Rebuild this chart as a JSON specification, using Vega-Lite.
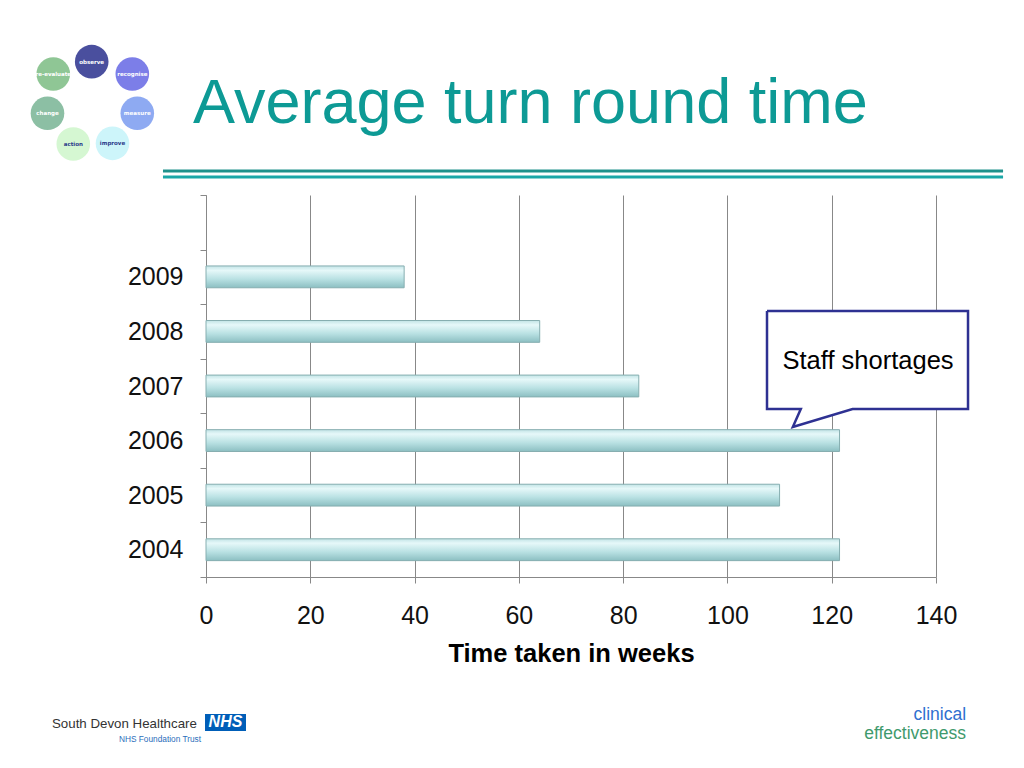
{
  "$schema": "https://vega.github.io/schema/vega-lite/v6.json",
  "width": 730,
  "height": 382,
  "autosize": {"type": "none"},
  "padding": {"left": 206, "top": 195, "right": 88, "bottom": 191},
  "background": "white",
  "config": {"view": {"stroke": null}, "font": "Liberation Sans"},
  "resolve": {"scale": {"x": "independent", "y": "independent"}, "axis": {"x": "independent", "y": "independent"}},
  "layer": [
    {
      "data": {"values": [
        {"year": "2009", "weeks": 38},
        {"year": "2008", "weeks": 64},
        {"year": "2007", "weeks": 83},
        {"year": "2006", "weeks": 121.5},
        {"year": "2005", "weeks": 110},
        {"year": "2004", "weeks": 121.5}
      ]},
      "mark": {
        "type": "bar",
        "height": {"band": 0.4},
        "fill": {"gradient": "linear", "x1": 0, "y1": 0, "x2": 0, "y2": 1, "stops": [
          {"offset": 0, "color": "#c2e4e6"},
          {"offset": 0.2, "color": "#e6f8f9"},
          {"offset": 0.6, "color": "#b9e1e3"},
          {"offset": 1, "color": "#8cbfc2"}
        ]},
        "stroke": "#86aeb0",
        "strokeWidth": 1
      },
      "encoding": {
        "y": {
          "field": "year", "type": "nominal",
          "scale": {"domain": ["blank", "2009", "2008", "2007", "2006", "2005", "2004"], "paddingInner": 0, "paddingOuter": 0},
          "axis": {
            "title": null, "labelExpr": "datum.value == 'blank' ? '' : datum.value",
            "labelFontSize": 25, "labelColor": "#111", "labelPadding": 17,
            "tickBand": "extent", "tickSize": 6, "tickColor": "#888", "domainColor": "#888", "grid": false
          }
        },
        "x": {
          "field": "weeks", "type": "quantitative",
          "scale": {"domain": [0, 140], "nice": false},
          "axis": {
            "title": "Time taken in weeks", "titleFontSize": 25.5, "titleFontWeight": "bold", "titleColor": "#000", "titlePadding": 13,
            "values": [0, 20, 40, 60, 80, 100, 120, 140],
            "labelFontSize": 25, "labelColor": "#111", "labelPadding": 20, "labelFlush": false, "labelOverlap": false,
            "tickSize": 6, "tickColor": "#888", "domainColor": "#888",
            "grid": true, "gridColor": "#888", "gridWidth": 1
          }
        }
      }
    },
    {
      "data": {"values": [
        {"px": 107.59, "py": 4.874, "ord": 1},
        {"px": 146.14, "py": 4.874, "ord": 2},
        {"px": 146.14, "py": 3.079, "ord": 3},
        {"px": 124.0, "py": 3.079, "ord": 4},
        {"px": 112.54, "py": 2.749, "ord": 5},
        {"px": 114.07, "py": 3.079, "ord": 6},
        {"px": 107.59, "py": 3.079, "ord": 7},
        {"px": 107.59, "py": 4.874, "ord": 8}
      ]},
      "mark": {"type": "line", "fill": "white", "stroke": "#2e3192", "strokeWidth": 2.5, "strokeJoin": "miter"},
      "encoding": {
        "x": {"field": "px", "type": "quantitative", "scale": {"domain": [0, 140], "nice": false, "zero": false}, "axis": null},
        "y": {"field": "py", "type": "quantitative", "scale": {"domain": [0, 7], "nice": false, "zero": false}, "axis": null},
        "order": {"field": "ord"}
      }
    },
    {
      "data": {"values": [{}]},
      "mark": {"type": "text", "text": "Staff shortages", "fontSize": 25.5, "color": "#000", "align": "center", "baseline": "middle"},
      "encoding": {
        "x": {"datum": 126.97, "type": "quantitative", "scale": {"domain": [0, 140], "nice": false, "zero": false}, "axis": null},
        "y": {"datum": 3.958, "type": "quantitative", "scale": {"domain": [0, 7], "nice": false, "zero": false}, "axis": null}
      }
    },
    {
      "data": {"values": [{}]},
      "mark": {"type": "text", "text": "Average turn round time", "fontSize": 63, "color": "#0d9a95", "align": "left", "baseline": "alphabetic"},
      "encoding": {
        "x": {"datum": -2.49, "type": "quantitative", "scale": {"domain": [0, 140], "nice": false, "zero": false}, "axis": null},
        "y": {"datum": 8.319, "type": "quantitative", "scale": {"domain": [0, 7], "nice": false, "zero": false}, "axis": null}
      }
    },
    {
      "data": {"values": [{}]},
      "mark": {"type": "rule", "color": "#1f918b", "strokeWidth": 3},
      "encoding": {
        "x": {"datum": -8.25, "type": "quantitative", "scale": {"domain": [0, 140], "nice": false, "zero": false}, "axis": null},
        "x2": {"datum": 152.86},
        "y": {"datum": 7.44, "type": "quantitative", "scale": {"domain": [0, 7], "nice": false, "zero": false}, "axis": null}
      }
    },
    {
      "data": {"values": [{}]},
      "mark": {"type": "rule", "color": "#1aa7a7", "strokeWidth": 3},
      "encoding": {
        "x": {"datum": -8.25, "type": "quantitative", "scale": {"domain": [0, 140], "nice": false, "zero": false}, "axis": null},
        "x2": {"datum": 152.86},
        "y": {"datum": 7.33, "type": "quantitative", "scale": {"domain": [0, 7], "nice": false, "zero": false}, "axis": null}
      }
    },
    {
      "data": {"values": [
        {"step": "observe", "colour": "#4a4f9e", "ink": "white", "lx": -21.92, "ly": 9.443},
        {"step": "recognise", "colour": "#7c7ee8", "ink": "white", "lx": -14.13, "ly": 9.217},
        {"step": "measure", "colour": "#8eaaf2", "ink": "white", "lx": -13.18, "ly": 8.497},
        {"step": "improve", "colour": "#cdf5fa", "ink": "#2a3a8a", "lx": -17.93, "ly": 7.947},
        {"step": "action", "colour": "#d5f7d2", "ink": "#2a3a8a", "lx": -25.45, "ly": 7.935},
        {"step": "change", "colour": "#8cbfa4", "ink": "white", "lx": -30.4, "ly": 8.497},
        {"step": "re-evaluate", "colour": "#8fc695", "ink": "white", "lx": -29.29, "ly": 9.217}
      ]},
      "layer": [
        {
          "mark": {"type": "point", "shape": "circle", "filled": true, "opacity": 1, "size": 1130},
          "encoding": {
            "x": {"field": "lx", "type": "quantitative", "scale": {"domain": [0, 140], "nice": false, "zero": false}, "axis": null},
            "y": {"field": "ly", "type": "quantitative", "scale": {"domain": [0, 7], "nice": false, "zero": false}, "axis": null},
            "color": {"field": "colour", "type": "nominal", "scale": null, "legend": null}
          }
        },
        {
          "mark": {"type": "text", "fontSize": 5.5, "fontWeight": "bold", "font": "DejaVu Sans", "align": "center", "baseline": "middle"},
          "encoding": {
            "x": {"field": "lx", "type": "quantitative", "scale": {"domain": [0, 140], "nice": false, "zero": false}, "axis": null},
            "y": {"field": "ly", "type": "quantitative", "scale": {"domain": [0, 7], "nice": false, "zero": false}, "axis": null},
            "text": {"field": "step"},
            "color": {"field": "ink", "type": "nominal", "scale": null, "legend": null}
          }
        }
      ]
    },
    {
      "data": {"values": [{}]},
      "mark": {"type": "text", "text": "South Devon Healthcare", "fontSize": 13.3, "color": "#333", "align": "left", "baseline": "alphabetic"},
      "encoding": {
        "x": {"datum": -29.54, "type": "quantitative", "scale": {"domain": [0, 140], "nice": false, "zero": false}, "axis": null},
        "y": {"datum": -2.767, "type": "quantitative", "scale": {"domain": [0, 7], "nice": false, "zero": false}, "axis": null}
      }
    },
    {
      "data": {"values": [{}]},
      "mark": {"type": "rect", "color": "#005eb8"},
      "encoding": {
        "x": {"datum": -0.19, "type": "quantitative", "scale": {"domain": [0, 140], "nice": false, "zero": false}, "axis": null},
        "x2": {"datum": 7.67},
        "y": {"datum": -2.51, "type": "quantitative", "scale": {"domain": [0, 7], "nice": false, "zero": false}, "axis": null},
        "y2": {"datum": -2.822}
      }
    },
    {
      "data": {"values": [{}]},
      "mark": {"type": "text", "text": "NHS", "fontSize": 16, "fontWeight": "bold", "fontStyle": "italic", "color": "white", "align": "center", "baseline": "middle"},
      "encoding": {
        "x": {"datum": 3.74, "type": "quantitative", "scale": {"domain": [0, 140], "nice": false, "zero": false}, "axis": null},
        "y": {"datum": -2.666, "type": "quantitative", "scale": {"domain": [0, 7], "nice": false, "zero": false}, "axis": null}
      }
    },
    {
      "data": {"values": [{}]},
      "mark": {"type": "text", "text": "NHS Foundation Trust", "fontSize": 8.3, "color": "#2a6ebb", "align": "left", "baseline": "alphabetic"},
      "encoding": {
        "x": {"datum": -16.69, "type": "quantitative", "scale": {"domain": [0, 140], "nice": false, "zero": false}, "axis": null},
        "y": {"datum": -3.024, "type": "quantitative", "scale": {"domain": [0, 7], "nice": false, "zero": false}, "axis": null}
      }
    },
    {
      "data": {"values": [{}]},
      "mark": {"type": "text", "text": "clinical", "fontSize": 17.5, "color": "#2f6fd0", "align": "right", "baseline": "alphabetic"},
      "encoding": {
        "x": {"datum": 145.76, "type": "quantitative", "scale": {"domain": [0, 140], "nice": false, "zero": false}, "axis": null},
        "y": {"datum": -2.62, "type": "quantitative", "scale": {"domain": [0, 7], "nice": false, "zero": false}, "axis": null}
      }
    },
    {
      "data": {"values": [{}]},
      "mark": {"type": "text", "text": "effectiveness", "fontSize": 17.5, "color": "#3f9a6d", "align": "right", "baseline": "alphabetic"},
      "encoding": {
        "x": {"datum": 145.76, "type": "quantitative", "scale": {"domain": [0, 140], "nice": false, "zero": false}, "axis": null},
        "y": {"datum": -2.969, "type": "quantitative", "scale": {"domain": [0, 7], "nice": false, "zero": false}, "axis": null}
      }
    }
  ]
}
